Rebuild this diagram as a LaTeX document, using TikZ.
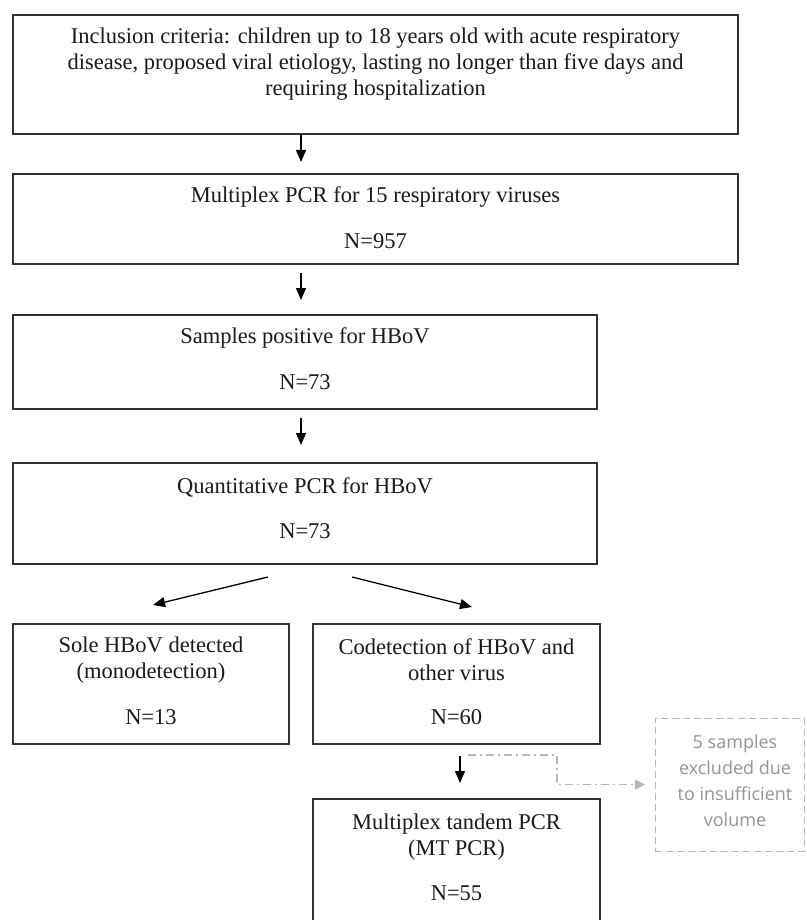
\documentclass[tikz,border=0pt]{standalone}
\usepackage{fontspec}
\setmainfont{Liberation Serif}
\newfontfamily\sansf{Open Sans}
\usetikzlibrary{arrows.meta,calc}
\definecolor{boxline}{HTML}{333333}
\definecolor{txtc}{HTML}{1A1A1A}
\definecolor{lgray}{HTML}{B8B8B8}
\definecolor{gtxt}{HTML}{959595}
\begin{document}
\begin{tikzpicture}[x=1pt,y=-1pt,
  box/.style={draw=boxline, line width=1.5pt, anchor=north west, inner sep=0pt, outer sep=0pt},
  gbox/.style={draw=lgray, line width=1pt, dash pattern=on 7pt off 4pt, anchor=north west, inner sep=0pt, outer sep=0pt},
  lbl/.style={text=txtc, font=\fontsize{22.5}{26}\selectfont, align=center, inner sep=0pt},
  glbl/.style={text=gtxt, font=\sansf\fontsize{18}{26}\selectfont, align=center, inner sep=0pt},
  arr/.style={draw=black, line width=1.3pt, -{Triangle[length=12pt,width=10pt]}},
  grayarr/.style={draw=lgray, line width=1.2pt, dash pattern=on 8pt off 4pt on 2pt off 4pt, -{Triangle[length=10pt,width=10pt]}}]
\useasboundingbox (0,0) rectangle (806,920);
\clip (0,0) rectangle (806,920);
\fill[white] (0,0) rectangle (806,920);
% boxes
\node[box, minimum width=725pt, minimum height=119pt] (b1) at (13,15) {};
\node[box, minimum width=725pt, minimum height=90pt] (b2) at (13,174) {};
\node[box, minimum width=584pt, minimum height=94pt] (b3) at (13,315) {};
\node[box, minimum width=584pt, minimum height=101pt] (b4) at (13,463) {};
\node[box, minimum width=276pt, minimum height=120pt] (b5) at (13,624) {};
\node[box, minimum width=287pt, minimum height=120pt] (b6) at (313,624) {};
\node[gbox, minimum width=149pt, minimum height=133pt] (b7) at (655,718) {};
\node[box, minimum width=287pt, minimum height=140pt] (b8) at (313,799) {};
% texts
\node[lbl] (t1) at (375.5,64) {Inclusion criteria: children up to 18 years old with acute respiratory\\disease, proposed viral etiology, lasting no longer than five days and\\requiring hospitalization};
\node[lbl] (t2) at (375.5,197) {Multiplex PCR for 15 respiratory viruses};
\node[lbl] (n2) at (375.5,241) {N=957};
\node[lbl] (t3) at (305,338) {Samples positive for HBoV};
\node[lbl] (n3) at (305,382) {N=73};
\node[lbl] (t4) at (305,487) {Quantitative PCR for HBoV};
\node[lbl] (n4) at (305,531) {N=73};
\node[lbl] (t5) at (151,660) {Sole HBoV detected\\(monodetection)};
\node[lbl] (n5) at (151,717) {N=13};
\node[lbl] (t6) at (456.5,660) {Codetection of HBoV and\\other virus};
\node[lbl] (n6) at (456.5,717) {N=60};
\node[lbl] (t8) at (456.5,837) {Multiplex tandem PCR\\(MT PCR)};
\node[lbl] (n8) at (456.5,893) {N=55};
\node[glbl] (t7) at (735,781) {5 samples\\excluded due\\to insufficient\\volume};
% connectors
\coordinate (ax) at (301,0);
\coordinate (bx) at (460,0);
\draw[arr] (b1.south -| ax) -- ($(b2.north -| ax)+(0,-12)$);
\draw[arr] ($(b2.south -| ax)+(0,9)$) -- ($(b3.north -| ax)+(0,-15)$);
\draw[arr] ($(b3.south -| ax)+(0,9)$) -- ($(b4.north -| ax)+(0,-18)$);
\draw[arr] ($(b4.south west)+(255,13)$) -- ($(b5.north west)+(140,-19)$);
\draw[arr] ($(b4.south west)+(339,13)$) -- ($(b6.north west)+(159,-17)$);
\draw[arr] ($(b6.south -| bx)+(0,12)$) -- ($(b8.north -| bx)+(0,-16)$);
\draw[grayarr] ($(b6.south west)+(155,11)$) -- ++(89,0) |- ($(b7.west)+(-10,0)$);
\end{tikzpicture}
\end{document}
